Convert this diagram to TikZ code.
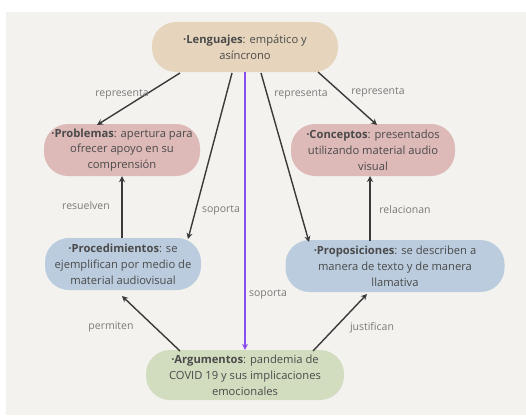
\documentclass[tikz,border=0pt]{standalone}
\usepackage{fontspec}
\setmainfont{Open Sans}
\usetikzlibrary{arrows.meta}
\definecolor{paper}{HTML}{F3F2EE}
\definecolor{tanfill}{HTML}{E6D5BC}
\definecolor{pinkfill}{HTML}{DDB9B8}
\definecolor{bluefill}{HTML}{BBCCDE}
\definecolor{greenfill}{HTML}{D2DDBF}
\definecolor{inktext}{HTML}{4A4A4A}
\definecolor{labeltext}{HTML}{7A7A7A}
\definecolor{linkline}{HTML}{3A3A3A}
\definecolor{violetline}{HTML}{8A4DF0}
\tikzset{
  pill/.style={rounded corners=24pt, minimum height=50pt, align=center,
    text=inktext, font=\fontsize{11.2}{15.8}\selectfont, inner sep=0pt},
  link/.style={draw=linkline, line width=1.4pt, -{Stealth[length=6pt,width=6pt]}},
  linklabel/.style={text=labeltext, font=\fontsize{10.5}{12}\selectfont, inner sep=1pt},
}
\begin{document}
\begin{tikzpicture}[x=1pt,y=-1pt]
  \useasboundingbox (0,0) rectangle (526,415);
  \fill[white] (0,0) rectangle (526,415);
  \fill[paper] (6,12) rectangle (526,415);

  % concept boxes
  \node[pill, fill=tanfill, minimum width=186pt] (leng) at (245,47)
    {\textbf{·Lenguajes}: empático y\\asíncrono};
  \node[pill, fill=pinkfill, minimum width=156pt, minimum height=52pt] (prob) at (122,150)
    {\textbf{·Problemas}: apertura para\\ofrecer apoyo en su\\comprensión};
  \node[pill, fill=pinkfill, minimum width=164pt, minimum height=52pt] (conc) at (373,150)
    {\textbf{·Conceptos}: presentados\\utilizando material audio\\visual};
  \node[pill, fill=bluefill, minimum width=156pt, minimum height=52pt] (proc) at (123,264)
    {\textbf{·Procedimientos}: se\\ejemplifican por medio de\\material audiovisual};
  \node[pill, fill=bluefill, minimum width=219pt, minimum height=52pt] (prop) at (395,266)
    {\textbf{·Proposiciones}: se describen a\\manera de texto y de manera\\llamativa};
  \node[pill, fill=greenfill, minimum width=198pt] (argu) at (245,375)
    {\textbf{·Argumentos}: pandemia de\\COVID 19 y sus implicaciones\\emocionales};

  % end points on the box outlines
  \coordinate (l1) at (180,73);
  \coordinate (l2) at (232,73);
  \coordinate (l3) at (261,73);
  \coordinate (l4) at (318,72);
  \coordinate (p1) at (97,125);
  \coordinate (c1) at (377,125);
  \coordinate (r1) at (188,239);
  \coordinate (q1) at (309,242);
  \coordinate (a1) at (180,351);
  \coordinate (a2) at (313,351);
  \coordinate (r2) at (122,296);
  \coordinate (q2) at (367,294);

  % links
  \draw[link] (l1) -- (p1);
  \draw[link] (l4) -- (c1);
  \draw[link] (l2) -- (r1);
  \draw[link] (l3) -- (q1);
  \draw[link, draw=violetline] (leng.south) -- (argu.north);
  \draw[link] (proc.north -| prob.south) -- (prob.south);
  \draw[link] (370,241) -- (370,176);
  \draw[link] (a1) -- (r2);
  \draw[link] (a2) -- (q2);

  % link labels
  \node[linklabel] (t1) at (122,94) {representa};
  \node[linklabel] (t2) at (378,92) {representa};
  \node[linklabel] (t3) at (301,94) {representa};
  \node[linklabel] (t4) at (221,210) {soporta};
  \node[linklabel] (t5) at (268,294) {soporta};
  \node[linklabel] (t6) at (86,206) {resuelven};
  \node[linklabel] (t7) at (405,210) {relacionan};
  \node[linklabel] (t8) at (111,327) {permiten};
  \node[linklabel] (t9) at (372,328) {justifican};
\end{tikzpicture}
\end{document}
